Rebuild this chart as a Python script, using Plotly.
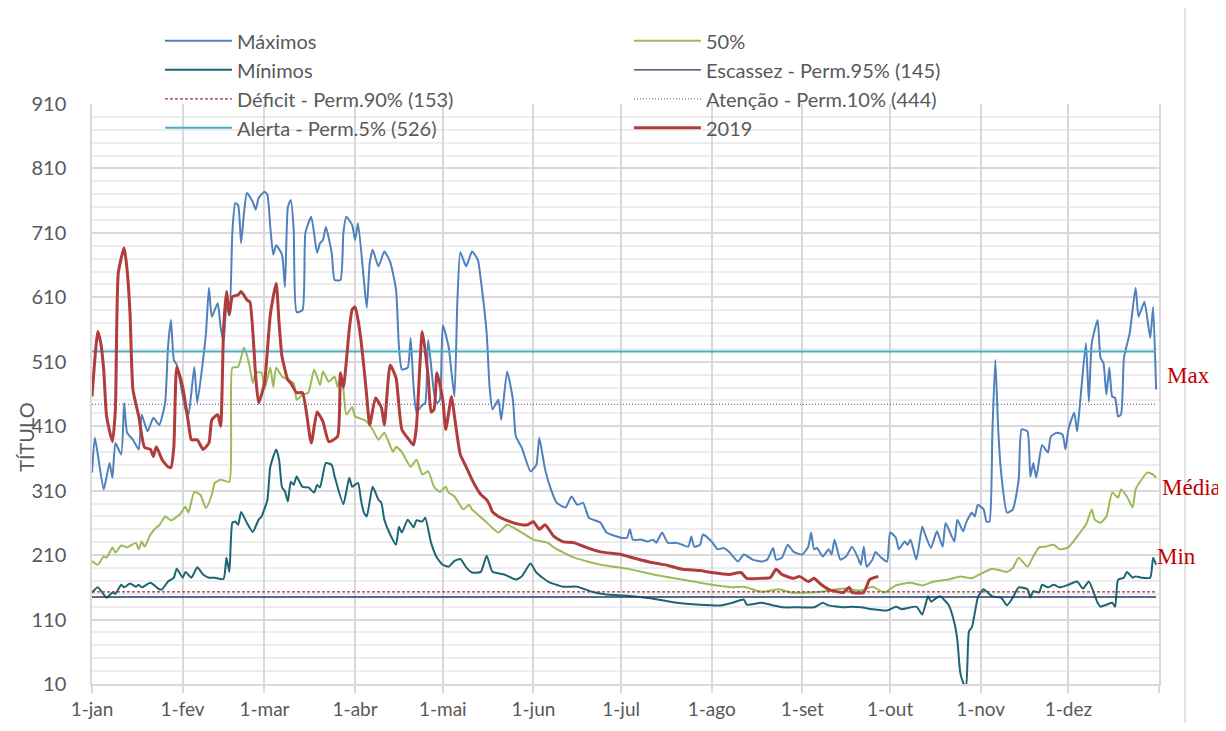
import plotly.graph_objects as go

# ---------------- data (day of year, 0 = 1-jan) ----------------
month_days = [0, 31, 59, 90, 120, 151, 181, 212, 243, 273, 304, 334, 365]
month_labels = ["1-jan", "1-fev", "1-mar", "1-abr", "1-mai", "1-jun", "1-jul",
                "1-ago", "1-set", "1-out", "1-nov", "1-dez", ""]
y_ticks = [10, 110, 210, 310, 410, 510, 610, 710, 810, 910]

max_days = [0, 1, 4, 6, 7, 8, 10, 11, 12, 14, 16, 17, 19, 21, 23, 25, 26, 27, 28, 29, 32, 33, 35, 36, 38, 39, 40, 41, 43, 44,
            45, 46, 47, 48, 49, 50, 51, 52, 53, 55, 56, 57, 59, 60, 61, 62, 63, 65, 66, 67, 68, 69, 70, 72, 73, 75, 77, 78, 79, 80,
            82, 83, 85, 86, 87, 89, 90, 91, 93, 94, 95, 96, 98, 100, 102, 104, 105, 106, 108, 109, 110, 111, 113, 114, 115, 117, 118, 119, 120, 122,
            123, 124, 125, 126, 128, 130, 132, 133, 135, 136, 137, 139, 140, 142, 144, 145, 147, 150, 152, 153, 155, 157, 159, 162, 164, 166, 168, 170, 174, 176,
            181, 183, 184, 185, 188, 190, 192, 193, 195, 197, 200, 202, 204, 205, 206, 208, 209, 212, 214, 216, 218, 221, 223, 226, 229, 231, 233, 234, 236, 238,
            240, 243, 245, 246, 247, 248, 250, 252, 253, 254, 256, 258, 260, 262, 263, 264, 265, 267, 268, 270, 272, 273, 275, 276, 278, 279, 280, 282, 284, 285,
            287, 289, 291, 292, 295, 296, 298, 299, 301, 302, 303, 305, 306, 307, 308, 309, 310, 311, 313, 315, 317, 318, 320, 321, 322, 323, 325, 327, 328, 330,
            332, 333, 334, 336, 337, 338, 340, 341, 342, 344, 345, 346, 347, 348, 349, 350, 351, 352, 353, 354, 355, 357, 358, 360, 362, 363, 364]
max_vals = [338, 392, 312, 353, 330, 384, 366, 446, 400, 389, 374, 428, 402, 423, 412, 446, 533, 575, 513, 505, 436, 428, 502, 446, 513, 555, 625, 580, 601, 564,
            541, 595, 586, 710, 756, 753, 694, 741, 772, 758, 746, 764, 774, 769, 719, 676, 691, 676, 626, 750, 761, 715, 587, 590, 710, 735, 679, 694, 699, 719,
            679, 637, 637, 710, 735, 722, 699, 725, 637, 594, 663, 684, 658, 681, 665, 622, 533, 498, 501, 547, 471, 432, 443, 446, 544, 462, 446, 451, 567, 533,
            493, 456, 606, 680, 658, 681, 668, 637, 555, 471, 436, 451, 420, 495, 451, 394, 377, 340, 350, 392, 343, 312, 291, 284, 301, 288, 291, 268, 260, 245,
            237, 237, 250, 234, 234, 231, 234, 229, 245, 229, 229, 226, 223, 239, 223, 226, 242, 231, 219, 221, 215, 200, 211, 203, 200, 203, 221, 203, 206, 226,
            215, 211, 223, 245, 219, 221, 208, 219, 211, 234, 203, 208, 223, 206, 195, 223, 192, 203, 215, 206, 200, 245, 237, 219, 231, 226, 234, 203, 254, 242,
            221, 247, 223, 260, 231, 265, 247, 260, 276, 270, 288, 281, 262, 262, 400, 513, 405, 338, 276, 281, 327, 405, 402, 332, 353, 330, 381, 369, 394, 400,
            397, 374, 405, 431, 402, 446, 539, 448, 539, 575, 516, 508, 459, 501, 456, 454, 425, 428, 516, 536, 555, 625, 580, 603, 547, 595, 467]

min_days = [0, 2, 5, 7, 8, 10, 11, 13, 15, 16, 17, 20, 23, 24, 26, 28, 29, 31, 32, 34, 36, 38, 40, 42, 45, 46, 47, 48, 49, 50,
            51, 53, 55, 57, 58, 60, 61, 63, 64, 65, 66, 67, 68, 69, 70, 72, 74, 76, 77, 78, 80, 82, 83, 86, 88, 89, 91, 92, 93, 94,
            96, 98, 99, 100, 102, 104, 105, 106, 108, 110, 111, 113, 114, 116, 118, 120, 122, 124, 126, 128, 130, 133, 135, 137, 141, 145, 147, 150, 152, 156,
            161, 166, 171, 176, 183, 191, 200, 208, 215, 219, 223, 224, 229, 233, 236, 242, 247, 250, 252, 257, 260, 263, 267, 272, 275, 277, 282, 284, 286, 287,
            290, 293, 295, 296, 297, 298, 299, 300, 301, 303, 304, 305, 308, 311, 313, 315, 317, 320, 321, 322, 324, 325, 327, 329, 331, 334, 337, 339, 341, 344,
            345, 347, 349, 350, 351, 353, 354, 356, 357, 359, 362, 363, 364]
min_vals = [152, 160, 144, 152, 150, 164, 160, 166, 161, 164, 160, 167, 157, 157, 169, 175, 189, 175, 184, 175, 191, 180, 175, 175, 173, 206, 184, 260, 262, 257,
            277, 260, 246, 265, 270, 296, 347, 374, 358, 315, 309, 293, 324, 319, 332, 316, 315, 307, 319, 315, 353, 350, 332, 289, 330, 316, 322, 296, 276, 270,
            316, 296, 291, 265, 242, 226, 254, 245, 265, 253, 264, 262, 268, 229, 206, 195, 192, 201, 204, 191, 183, 184, 209, 184, 180, 172, 177, 197, 183, 169,
            161, 161, 153, 149, 147, 143, 136, 133, 132, 136, 141, 133, 136, 132, 129, 129, 129, 136, 132, 129, 130, 129, 126, 124, 130, 126, 130, 118, 146, 138,
            146, 133, 105, 79, 28, 12, 5, 92, 98, 144, 152, 157, 146, 144, 132, 144, 160, 157, 144, 154, 152, 164, 160, 164, 160, 164, 169, 158, 169, 136,
            130, 133, 136, 130, 172, 175, 184, 175, 177, 175, 175, 206, 195]

p50_days = [0, 2, 4, 5, 7, 8, 10, 12, 15, 16, 17, 18, 20, 22, 23, 25, 27, 30, 32, 33, 35, 37, 39, 41, 42, 44, 47, 48, 50, 52,
            53, 54, 55, 56, 58, 59, 61, 62, 63, 65, 67, 69, 70, 72, 74, 76, 78, 79, 81, 83, 84, 85, 86, 87, 89, 90, 93, 94, 96, 98,
            100, 103, 104, 106, 109, 111, 113, 115, 117, 119, 121, 122, 124, 127, 129, 130, 134, 139, 142, 147, 151, 156, 158, 165, 174, 183, 192, 202, 212, 219,
            223, 229, 235, 239, 245, 249, 257, 263, 267, 271, 275, 280, 284, 288, 293, 297, 301, 304, 308, 313, 315, 317, 320, 322, 324, 326, 329, 331, 334, 338,
            340, 342, 343, 345, 347, 349, 351, 352, 354, 356, 357, 359, 361, 363, 364]
p50_vals = [201, 195, 208, 206, 222, 214, 225, 222, 229, 219, 231, 223, 242, 253, 256, 270, 264, 273, 285, 276, 308, 304, 283, 304, 322, 327, 324, 501, 502, 532,
            520, 501, 477, 493, 493, 467, 501, 471, 501, 487, 482, 477, 451, 459, 462, 498, 474, 495, 479, 487, 471, 490, 467, 428, 440, 425, 420, 417, 405, 389,
            400, 370, 378, 370, 347, 358, 335, 340, 316, 308, 316, 307, 301, 281, 288, 281, 265, 245, 257, 245, 234, 229, 222, 206, 195, 189, 180, 172, 164, 160,
            161, 153, 157, 152, 152, 153, 158, 155, 161, 152, 163, 167, 163, 169, 172, 177, 174, 181, 189, 184, 190, 206, 192, 208, 222, 223, 226, 219, 222, 245,
            257, 281, 265, 260, 270, 307, 299, 312, 301, 284, 312, 327, 338, 335, 330]

y2019_days = [0, 2, 3, 4, 5, 7, 8, 9, 11, 12, 13, 14, 16, 18, 20, 21, 22, 24, 26, 27, 28, 29, 31, 33, 34, 36, 38, 40, 41, 43,
              44, 45, 46, 47, 48, 50, 51, 53, 54, 56, 57, 59, 61, 63, 64, 65, 67, 68, 70, 72, 75, 77, 79, 81, 84, 85, 86, 88, 89, 90,
              91, 92, 93, 94, 95, 97, 99, 100, 102, 104, 106, 109, 110, 111, 113, 115, 116, 117, 118, 120, 121, 123, 124, 126, 128, 130, 133, 135, 136, 137,
              139, 143, 147, 149, 151, 153, 155, 158, 161, 165, 169, 174, 181, 185, 192, 197, 202, 208, 212, 218, 222, 224, 229, 232, 234, 236, 240, 242, 245, 247,
              249, 252, 257, 259, 260, 264, 266, 269]
y2019_vals = [456, 557, 539, 498, 425, 386, 436, 648, 687, 653, 586, 467, 425, 377, 374, 363, 378, 358, 347, 346, 378, 502, 471, 415, 389, 389, 374, 384, 420, 428,
              410, 560, 619, 583, 611, 614, 619, 606, 603, 487, 446, 477, 583, 632, 570, 518, 482, 477, 462, 462, 384, 432, 417, 386, 394, 493, 470, 560, 591, 595,
              575, 544, 502, 456, 412, 454, 439, 412, 505, 485, 405, 386, 381, 410, 557, 487, 432, 436, 493, 451, 405, 456, 425, 366, 347, 327, 304, 296, 288, 277,
              270, 262, 257, 257, 262, 250, 257, 239, 231, 229, 222, 215, 211, 206, 198, 194, 188, 186, 183, 180, 183, 174, 174, 175, 188, 180, 174, 177, 169, 174,
              166, 157, 152, 160, 152, 152, 172, 177]

line_span = [0, 364]
escassez = 145
deficit = 153
atencao = 444
alerta = 526

# ---------------- figure ----------------
GREY = "#595959"
FONT = "Lato"
RED_TXT = "#C00000"
SMOOTH = dict(shape="spline", smoothing=0.5)

fig = go.Figure()
fig.add_trace(go.Scatter(x=max_days, y=max_vals, mode="lines", name="Máximos",
                         line=dict(color="#4F81BD", width=2, **SMOOTH)))
fig.add_trace(go.Scatter(x=p50_days, y=p50_vals, mode="lines", name="50%",
                         line=dict(color="#9BBB59", width=2, **SMOOTH)))
fig.add_trace(go.Scatter(x=min_days, y=min_vals, mode="lines", name="Mínimos",
                         line=dict(color="#1E6474", width=2, **SMOOTH)))
fig.add_trace(go.Scatter(x=line_span, y=[escassez] * 2, mode="lines",
                         name=f"Escassez - Perm.95% ({escassez})",
                         line=dict(color="#1F3864", width=1.3)))
fig.add_trace(go.Scatter(x=line_span, y=[deficit] * 2, mode="lines",
                         name=f"Déficit - Perm.90% ({deficit})",
                         line=dict(color="#953735", width=1.3, dash="3px,2px")))
fig.add_trace(go.Scatter(x=line_span, y=[atencao] * 2, mode="lines",
                         name=f"Atenção - Perm.10% ({atencao})",
                         line=dict(color="#8064A2", width=1.3, dash="1px,2px")))
fig.add_trace(go.Scatter(x=line_span, y=[alerta] * 2, mode="lines",
                         name=f"Alerta - Perm.5% ({alerta})",
                         line=dict(color="#4BACC6", width=2)))
fig.add_trace(go.Scatter(x=y2019_days, y=y2019_vals, mode="lines", name="2019",
                         line=dict(color="#B03C3C", width=3, **SMOOTH)))

fig.update_layout(
    width=1218, height=715,
    margin=dict(l=84, r=67, t=96, b=39, autoexpand=False),
    paper_bgcolor="white", plot_bgcolor="white",
    font=dict(family=FONT, color=GREY, size=20),
    showlegend=True,
    legend=dict(orientation="h", x=0.0637, y=1.1425, xanchor="left", yanchor="top",
                entrywidth=387, itemwidth=67, font=dict(size=20, color=GREY),
                bgcolor="rgba(0,0,0,0)", traceorder="normal"),
    xaxis=dict(range=[0, 365], tickmode="array", tickvals=month_days, ticktext=month_labels,
               showgrid=True, gridcolor="#D9D9D9", gridwidth=1.5,
               showline=True, linecolor="#D9D9D9", linewidth=1.5,
               ticks="outside", ticklen=7, tickcolor="#D9D9D9", tickwidth=1.5,
               tickfont=dict(size=19, color=GREY), ticklabelstandoff=0, zeroline=False),
    yaxis=dict(range=[10, 910], tickmode="array", tickvals=y_ticks,
               showgrid=True, gridcolor="#D9D9D9", gridwidth=1.8,
               minor=dict(tickmode="linear", tick0=10, dtick=20, showgrid=True,
                          gridcolor="#EDEDED", gridwidth=1.5),
               showline=True, mirror=True, linecolor="#D9D9D9", linewidth=1.5,
               tickfont=dict(size=20, color=GREY), ticks="", ticklabelstandoff=20,
               zeroline=False),
    shapes=[dict(type="rect", xref="paper", yref="paper", x0=-0.0806, x1=1.0244,
                 y0=-0.1, y1=1.1707, line=dict(color="#D9D9D9", width=1.5), layer="below")],
    annotations=[
        dict(text="TÍTULO", xref="paper", yref="paper", x=-0.0619, y=0.426, textangle=-90,
             xanchor="center", yanchor="middle",
             showarrow=False, font=dict(size=20, color=GREY, family=FONT)),
        dict(text="Max", xref="paper", yref="y", x=1.0056, y=488, xanchor="left",
             showarrow=False, font=dict(size=23, color=RED_TXT, family="Liberation Serif")),
        dict(text="Média", xref="paper", yref="y", x=1.0009, y=315, xanchor="left",
             showarrow=False, font=dict(size=23, color=RED_TXT, family="Liberation Serif")),
        dict(text="Min", xref="paper", yref="y", x=0.9963, y=208, xanchor="left",
             showarrow=False, font=dict(size=23, color=RED_TXT, family="Liberation Serif")),
    ],
)

fig.write_html("out.html")
